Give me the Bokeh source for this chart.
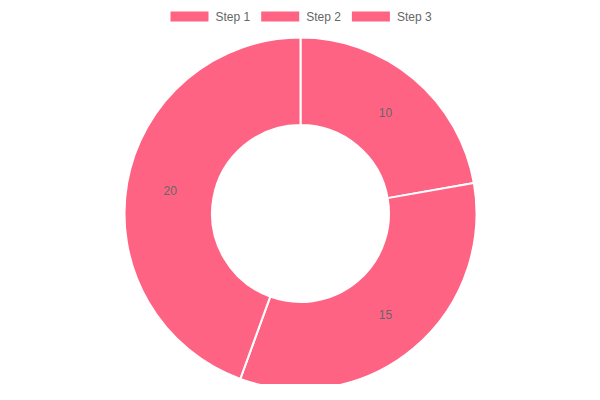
import numpy as np
from bokeh.plotting import figure
from bokeh.models import Range1d, ColumnDataSource
from bokeh.embed import file_html
from bokeh.resources import INLINE
from bokeh.core.properties import value

# ---- data ----
labels = ["Step 1", "Step 2", "Step 3"]
values = [10, 15, 20]
colors = ["#FF6384", "#FF6384", "#FF6384"]

# ---- layout ----
W, H = 584, 384
cx, cy = 300, H - 213
r_out, r_in = 176, 88.5
FONT = "Liberation Sans"

p = figure(width=W, height=H, output_backend="svg", toolbar_location=None,
           x_range=Range1d(0, W), y_range=Range1d(0, H), min_border=0,
           x_axis_type=None, y_axis_type=None)
p.grid.visible = False
p.outline_line_color = None
p.background_fill_color = "white"
p.border_fill_color = "white"

vals = np.array(values, dtype=float)
frac = vals / vals.sum()
cum_end = np.cumsum(frac)
cum_start = cum_end - frac
start = np.pi / 2 - 2 * np.pi * cum_start
end = np.pi / 2 - 2 * np.pi * cum_end
mid = np.pi / 2 - 2 * np.pi * (cum_start + frac / 2)
r_mid = (r_out + r_in) / 2

src = ColumnDataSource(dict(
    x=[cx] * len(values), y=[cy] * len(values),
    start=start, end=end, color=colors,
    lx=cx + r_mid * np.cos(mid), ly=cy + r_mid * np.sin(mid),
    txt=[str(v) for v in values], label=labels,
))

p.annular_wedge(x="x", y="y", inner_radius=r_in, outer_radius=r_out,
                start_angle="start", end_angle="end", direction="clock",
                fill_color="color", line_color="white", line_width=2, source=src)

p.text(x="lx", y="ly", text="txt", source=src, text_align="center",
       text_baseline="middle", text_font=value(FONT), text_font_size="12px",
       text_color="#666666")

# ---- legend (manual, top centered) ----
box_w, box_h = 38, 10
x0, stride = 170, 90.7
ly = H - 16
bx = [x0 + i * stride + box_w / 2 for i in range(len(labels))]
tx = [x0 + i * stride + 45 for i in range(len(labels))]
p.rect(x=bx, y=[ly] * len(labels), width=box_w, height=box_h,
       fill_color=colors, line_color=None)
p.text(x=tx, y=[ly] * len(labels), text=labels, text_align="left",
       text_baseline="middle", text_font=value(FONT), text_font_size="12px",
       text_color="#666666")

open("out.html", "w").write(file_html(p, INLINE))
